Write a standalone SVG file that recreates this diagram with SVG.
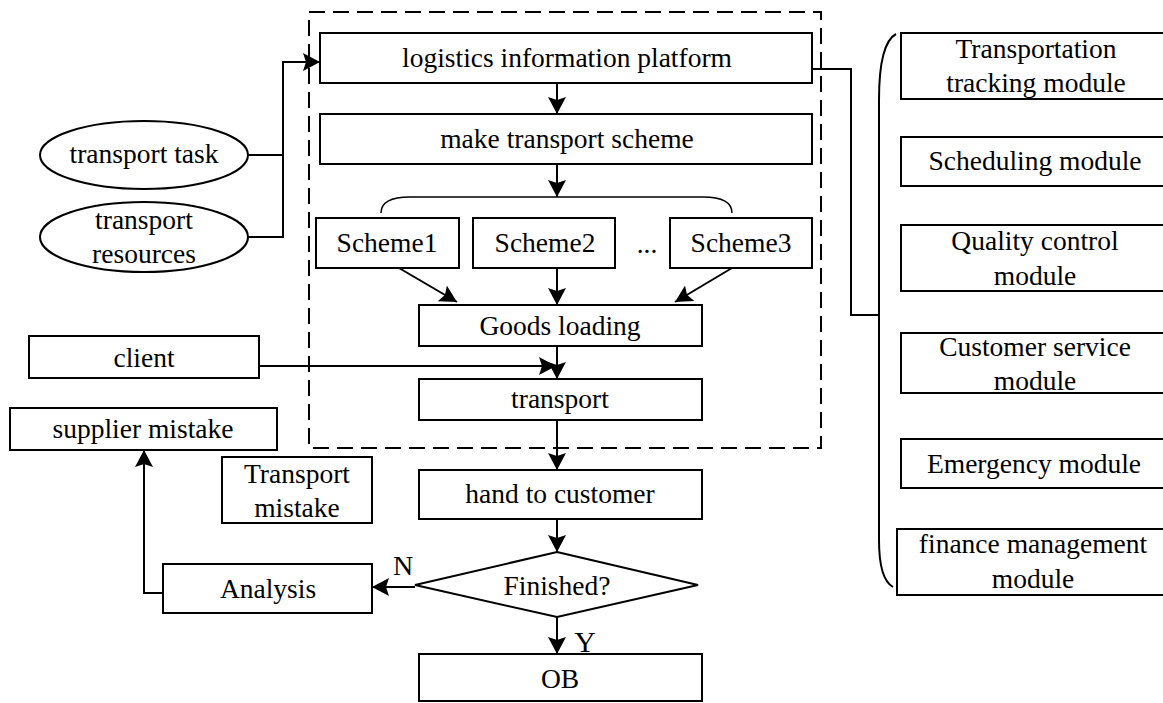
<svg xmlns="http://www.w3.org/2000/svg" width="1163" height="703" viewBox="0 0 1163 703">
  <defs>
    <marker id="arrow" viewBox="0 0 17 18" refX="17" refY="9" markerWidth="17" markerHeight="18" markerUnits="userSpaceOnUse" orient="auto">
      <path d="M0,0 L17,9 L0,18 L3,9 z" fill="#000"/>
    </marker>
    <style>
      .box { fill: #fff; stroke: #000; stroke-width: 2; }
      .lbl { font-family: "Liberation Serif", "Times New Roman", serif; font-size: 27.5px; fill: #000; text-anchor: middle; }
      .conn { fill: none; stroke: #000; stroke-width: 2; }
      .thin { fill: none; stroke: #000; stroke-width: 1.4; }
      .dash { fill: none; stroke: #000; stroke-width: 2; stroke-dasharray: 16 8; }
    </style>
  </defs>
  <rect width="1163" height="703" fill="#fff"/>

  <!-- platform boundary -->
  <rect class="dash" x="309" y="12" width="512" height="436"/>

  <!-- connectors -->
  <g id="connectors">
    <polyline class="conn" points="248,155 283,155"/>
    <polyline class="conn" points="248,237 283,237 283,62 320,62" marker-end="url(#arrow)"/>
    <line class="conn" x1="557" y1="83" x2="557" y2="114" marker-end="url(#arrow)"/>
    <line class="conn" x1="557" y1="164" x2="557" y2="197" marker-end="url(#arrow)"/>
    <path class="thin" d="M381,213 C381,202 392,197 410,197 L703,197 C721,197 732,202 732,213"/>
    <line class="conn" x1="399" y1="268" x2="457" y2="302" marker-end="url(#arrow)"/>
    <line class="conn" x1="557" y1="268" x2="557" y2="305" marker-end="url(#arrow)"/>
    <line class="conn" x1="732" y1="268" x2="675" y2="302" marker-end="url(#arrow)"/>
    <line class="conn" x1="557" y1="346" x2="557" y2="379" marker-end="url(#arrow)"/>
    <line class="conn" x1="259" y1="366" x2="556" y2="366" marker-end="url(#arrow)"/>
    <line class="conn" x1="557" y1="420" x2="557" y2="470" marker-end="url(#arrow)"/>
    <line class="conn" x1="557" y1="519" x2="557" y2="552" marker-end="url(#arrow)"/>
    <line class="conn" x1="415" y1="587" x2="372" y2="587" marker-end="url(#arrow)"/>
    <line class="conn" x1="557" y1="617" x2="557" y2="654" marker-end="url(#arrow)"/>
    <polyline class="conn" points="163,593 144,593 144,450" marker-end="url(#arrow)"/>
    <polyline class="conn" points="812,69 851,69 851,315 879,315"/>
    <path class="conn" d="M896,34 C885,40 879,60 879,100 L879,540 C879,568 884,582 893,587"/>
  </g>

  <g id="transport-task">
    <ellipse class="box" cx="144" cy="155" rx="104" ry="34"/>
    <text class="lbl" x="144" y="163">transport task</text>
  </g>
  <g id="transport-resources">
    <ellipse class="box" cx="144" cy="237" rx="104" ry="35"/>
    <text class="lbl" x="144" y="229">transport</text>
    <text class="lbl" x="144" y="263">resources</text>
  </g>

  <g id="platform">
    <rect class="box" x="320" y="33" width="492" height="50"/>
    <text class="lbl" x="567" y="67">logistics information platform</text>
  </g>
  <g id="make-scheme">
    <rect class="box" x="320" y="114" width="492" height="50"/>
    <text class="lbl" x="567" y="148">make transport scheme</text>
  </g>
  <g id="scheme1">
    <rect class="box" x="316" y="218" width="143" height="50"/>
    <text class="lbl" x="387" y="252">Scheme1</text>
  </g>
  <g id="scheme2">
    <rect class="box" x="473" y="218" width="142" height="50"/>
    <text class="lbl" x="545" y="252">Scheme2</text>
  </g>
  <text class="lbl" x="647" y="253">...</text>
  <g id="scheme3">
    <rect class="box" x="670" y="218" width="142" height="50"/>
    <text class="lbl" x="741" y="252">Scheme3</text>
  </g>
  <g id="goods-loading">
    <rect class="box" x="419" y="305" width="283" height="41"/>
    <text class="lbl" x="560" y="335">Goods loading</text>
  </g>
  <g id="client">
    <rect class="box" x="29" y="336" width="230" height="42"/>
    <text class="lbl" x="144" y="367">client</text>
  </g>
  <g id="transport">
    <rect class="box" x="419" y="379" width="283" height="41"/>
    <text class="lbl" x="560" y="408">transport</text>
  </g>
  <g id="supplier-mistake">
    <rect class="box" x="10" y="408" width="267" height="42"/>
    <text class="lbl" x="143" y="438">supplier mistake</text>
  </g>
  <g id="transport-mistake">
    <rect class="box" x="222" y="457" width="150" height="66"/>
    <text class="lbl" x="297" y="483">Transport</text>
    <text class="lbl" x="297" y="517">mistake</text>
  </g>
  <g id="hand-to-customer">
    <rect class="box" x="419" y="470" width="283" height="49"/>
    <text class="lbl" x="560" y="503">hand to customer</text>
  </g>
  <g id="finished">
    <polygon class="box" points="557,552 698,585 557,617 415,585"/>
    <text class="lbl" x="557" y="595">Finished?</text>
    <text class="lbl" x="403" y="575" style="font-size:28px">N</text>
    <text class="lbl" x="585" y="652" style="font-size:30px">Y</text>
  </g>
  <g id="analysis">
    <rect class="box" x="163" y="564" width="209" height="49"/>
    <text class="lbl" x="268" y="598">Analysis</text>
  </g>
  <g id="ob">
    <rect class="box" x="419" y="654" width="283" height="47"/>
    <text class="lbl" x="560" y="688">OB</text>
  </g>

  <!-- platform modules -->
  <g id="tracking-module">
    <rect class="box" x="901" y="33" width="270" height="66"/>
    <text class="lbl" x="1036" y="58">Transportation</text>
    <text class="lbl" x="1036" y="92">tracking module</text>
  </g>
  <g id="scheduling-module">
    <rect class="box" x="901" y="137" width="270" height="49"/>
    <text class="lbl" x="1035" y="170">Scheduling module</text>
  </g>
  <g id="quality-module">
    <rect class="box" x="901" y="225" width="270" height="66"/>
    <text class="lbl" x="1035" y="250">Quality control</text>
    <text class="lbl" x="1035" y="285">module</text>
  </g>
  <g id="service-module">
    <rect class="box" x="901" y="333" width="270" height="60"/>
    <text class="lbl" x="1035" y="356">Customer service</text>
    <text class="lbl" x="1035" y="390">module</text>
  </g>
  <g id="emergency-module">
    <rect class="box" x="901" y="439" width="270" height="49"/>
    <text class="lbl" x="1034" y="473">Emergency module</text>
  </g>
  <g id="finance-module">
    <rect class="box" x="897" y="529" width="274" height="66"/>
    <text class="lbl" x="1033" y="553">finance management</text>
    <text class="lbl" x="1033" y="588">module</text>
  </g>
</svg>
